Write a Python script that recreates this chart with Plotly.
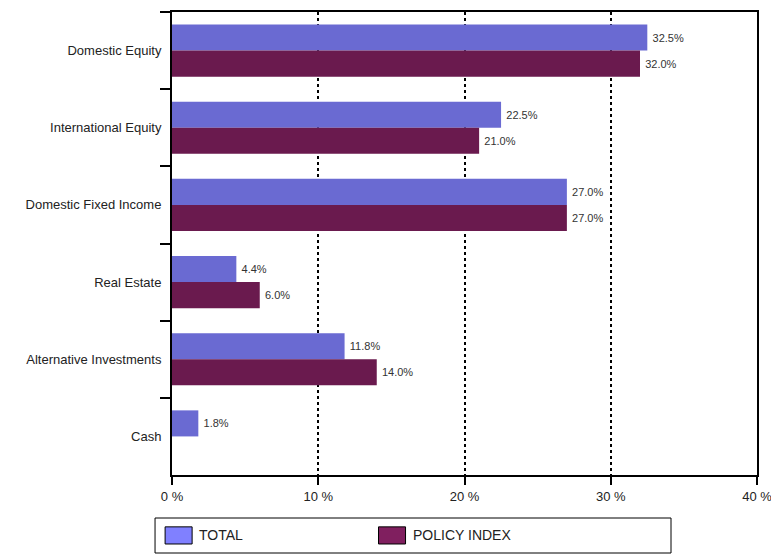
import plotly.graph_objects as go

categories = ["Domestic Equity", "International Equity", "Domestic Fixed Income",
              "Real Estate", "Alternative Investments", "Cash"]
total_vals = [32.5, 22.5, 27.0, 4.4, 11.8, 1.8]
policy_vals = [32.0, 21.0, 27.0, 6.0, 14.0, None]
series_names = ["TOTAL", "POLICY INDEX"]
bar_colors = ["#6A6AD2", "#6A1A4E"]
legend_colors = ["#8080FF", "#801F5F"]
x_ticks = [0, 10, 20, 30, 40]
x_tick_labels = ["0 %", "10 %", "20 %", "30 %", "40 %"]

FONT = "Liberation Sans Narrow, Arial Narrow, Liberation Sans, sans-serif"

def fmt(v):
    return "" if v is None else f"\u2009{v:.1f}%"

fig = go.Figure()
for name, vals, col in zip(series_names, [total_vals, policy_vals], bar_colors):
    fig.add_trace(go.Bar(
        y=categories, x=vals, orientation="h", name=name,
        marker=dict(color=col, line=dict(width=0)),
        text=[fmt(v) for v in vals], textposition="outside",
        textfont=dict(family=FONT, size=11, color="#333333"),
        cliponaxis=False, showlegend=False,
    ))

fig.update_layout(
    width=771, height=555,
    margin=dict(l=172, r=14, t=12, b=80, autoexpand=False),
    paper_bgcolor="white", plot_bgcolor="white",
    barmode="group", bargap=0.325, bargroupgap=0,
    font=dict(family=FONT, size=13, color="#222222"),
    xaxis=dict(range=[0, 40], tickmode="array", tickvals=x_ticks, ticktext=x_tick_labels,
               showgrid=True, gridcolor="black", griddash="dot", gridwidth=2,
               showline=True, linecolor="black", linewidth=2, mirror=True,
               ticks="outside", ticklen=8, tickwidth=2, tickcolor="black",
               ticklabeloverflow="allow",
               zeroline=False, automargin=False, tickfont=dict(size=13)),
    yaxis=dict(autorange="reversed", tickson="boundaries",
               showline=True, linecolor="black", linewidth=2, mirror=True,
               ticks="outside", ticklen=10, tickwidth=2, tickcolor="black",
               ticklabelstandoff=6,
               showgrid=False, automargin=False, tickfont=dict(size=13)),
)

# Legend box drawn manually
fig.add_shape(type="rect", xref="paper", yref="paper",
              x0=-0.029, x1=0.853, y0=-0.1685, y1=-0.0929,
              line=dict(color="black", width=1), fillcolor="white")
sym_x = [-0.0118, 0.353]
for name, col, sx in zip(series_names, legend_colors, sym_x):
    fig.add_shape(type="rect", xref="paper", yref="paper",
                  x0=sx, x1=sx + 0.0462, y0=-0.149, y1=-0.112,
                  line=dict(color="black", width=1), fillcolor=col)
    fig.add_annotation(xref="paper", yref="paper", x=sx + 0.055, y=-0.1305,
                       text=name, showarrow=False, xanchor="left", yanchor="middle",
                       font=dict(family=FONT, size=14, color="#222222"))

fig.write_html("out.html")
